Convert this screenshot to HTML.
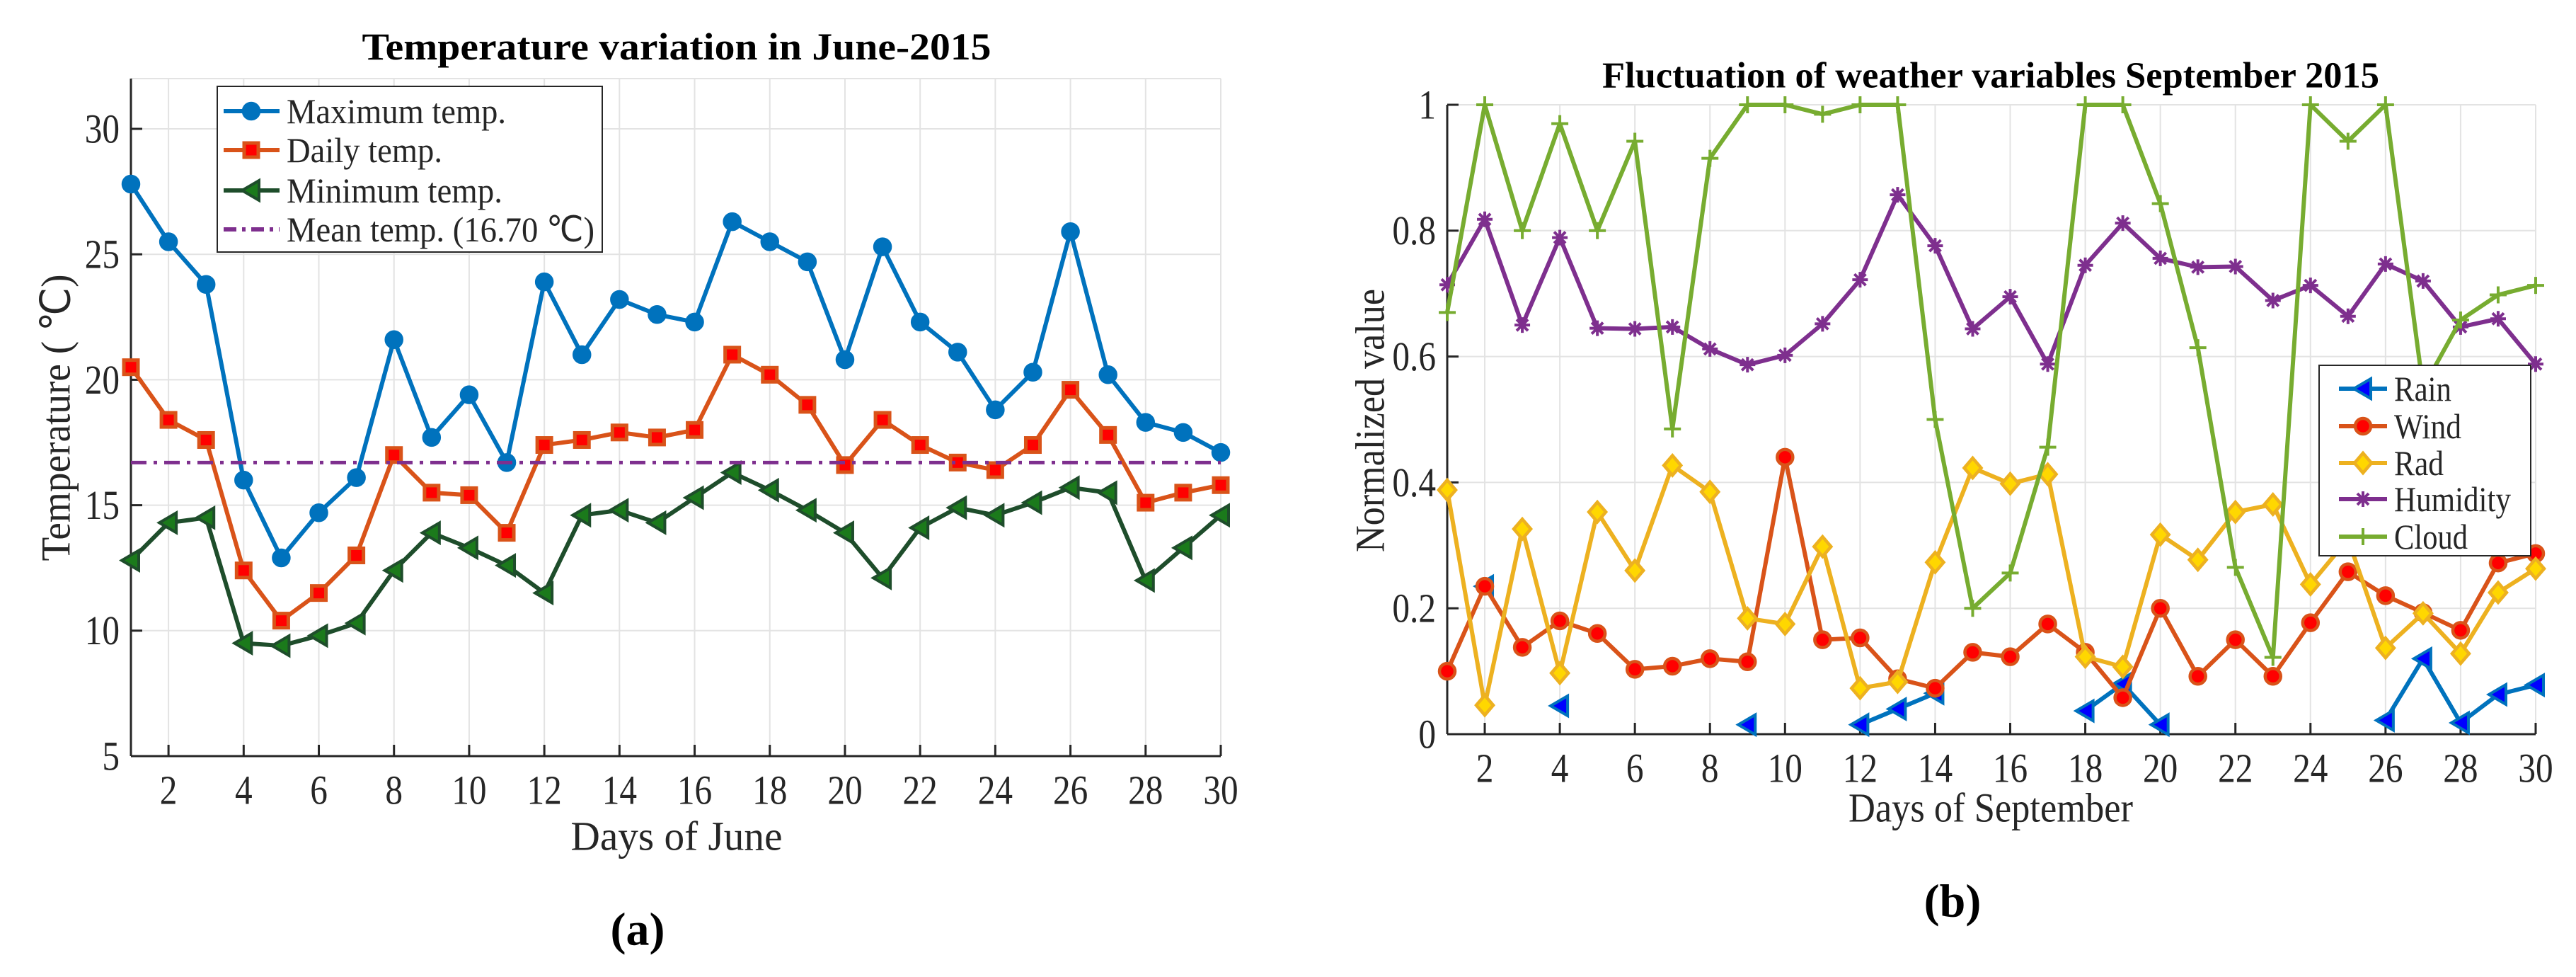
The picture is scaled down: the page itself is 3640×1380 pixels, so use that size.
<!DOCTYPE html>
<html><head><meta charset="utf-8"><style>
html,body{margin:0;padding:0;background:#fff;}
svg{display:block;font-family:"Liberation Serif",serif;}
</style></head>
<body>
<svg id="fig" width="3640" height="1380" viewBox="0 0 3640 1380" xmlns="http://www.w3.org/2000/svg"></svg>
<script>
// ---- Chart (a) data ----
const daysA = [1,2,3,4,5,6,7,8,9,10,11,12,13,14,15,16,17,18,19,20,21,22,23,24,25,26,27,28,29,30];
const maxTemp = [27.8,25.5,23.8,16,12.9,14.7,16.1,21.6,17.7,19.4,16.7,23.9,21,23.2,22.6,22.3,26.3,25.5,24.7,20.8,25.3,22.3,21.1,18.8,20.3,25.9,20.2,18.3,17.9,17.1];
const dailyTemp = [20.5,18.4,17.6,12.4,10.4,11.5,13,17,15.5,15.4,13.9,17.4,17.6,17.9,17.7,18,21,20.2,19,16.6,18.4,17.4,16.7,16.4,17.4,19.6,17.8,15.1,15.5,15.8];
const minTemp = [12.8,14.3,14.5,9.5,9.4,9.8,10.3,12.4,13.9,13.3,12.6,11.5,14.6,14.8,14.3,15.3,16.3,15.6,14.8,13.9,12.1,14.1,14.9,14.6,15.1,15.7,15.5,12,13.3,14.6];
const meanTemp = 16.70;
const xTicksA = [2,4,6,8,10,12,14,16,18,20,22,24,26,28,30];
const yTicksA = [5,10,15,20,25,30];
// ---- Chart (b) data ----
const daysB = [1,2,3,4,5,6,7,8,9,10,11,12,13,14,15,16,17,18,19,20,21,22,23,24,25,26,27,28,29,30];
const rain = [null,0.235,null,0.045,null,null,null,null,0.015,null,null,0.015,0.04,0.065,null,null,null,0.037,0.08,0.015,null,null,null,null,null,0.022,0.12,0.018,0.063,0.078];
const wind = [0.1,0.235,0.138,0.18,0.16,0.103,0.108,0.12,0.115,0.44,0.15,0.153,0.088,0.073,0.13,0.123,0.175,0.13,0.058,0.2,0.092,0.15,0.092,0.177,0.258,0.22,0.193,0.165,0.272,0.287];
const rad = [0.388,0.046,0.326,0.097,0.353,0.26,0.427,0.385,0.184,0.175,0.298,0.073,0.083,0.273,0.423,0.398,0.413,0.123,0.107,0.317,0.277,0.353,0.365,0.238,0.31,0.137,0.192,0.128,0.225,0.263];
const humidity = [0.714,0.818,0.65,0.789,0.645,0.644,0.647,0.612,0.587,0.602,0.652,0.722,0.857,0.776,0.644,0.695,0.588,0.745,0.812,0.756,0.742,0.743,0.689,0.713,0.664,0.747,0.72,0.647,0.66,0.588];
const cloud = [0.67,1,0.8,0.97,0.8,0.942,0.485,0.915,1,1,0.985,1,1,0.5,0.2,0.256,0.456,1,1,0.843,0.614,0.265,0.122,1,0.942,1,0.55,0.658,0.698,0.713];
const xTicksB = [2,4,6,8,10,12,14,16,18,20,22,24,26,28,30];
const yTicksB = [0,0.2,0.4,0.6,0.8,1];
const yTickLabelsB = ["0","0.2","0.4","0.6","0.8","1"];

const NS = "http://www.w3.org/2000/svg";
const fig = document.getElementById('fig');
function mk(tag, attrs, parent){
  const e = document.createElementNS(NS, tag);
  for (const k in attrs) e.setAttribute(k, attrs[k]);
  (parent||fig).appendChild(e);
  return e;
}
function txt(parent, s, x, y, size, opts){
  opts = opts||{};
  const t = mk('text', {x:0, y:0, 'font-size':size, fill:'#262626',
    'text-anchor':opts.anchor||'middle', 'dominant-baseline':'central',
    'font-weight':opts.bold?'bold':'normal'}, parent);
  let tr = 'translate('+x+','+y+')';
  if (opts.rot) tr += ' rotate('+opts.rot+')';
  if (opts.sx) tr += ' scale('+opts.sx+',1)';
  t.setAttribute('transform', tr);
  if (opts.len){ t.setAttribute('textLength', opts.len); t.setAttribute('lengthAdjust','spacingAndGlyphs'); }
  if (opts.fill) t.setAttribute('fill', opts.fill);
  t.textContent = s;
  return t;
}
function marker(g, type, x, y, stroke, fill){
  let m;
  if (type==='circle') m = mk('circle',{cx:x,cy:y,r:11,fill:fill,stroke:stroke,'stroke-width':4.5},g);
  else if (type==='square') m = mk('rect',{x:x-10,y:y-10,width:20,height:20,fill:fill,stroke:stroke,'stroke-width':5},g);
  else if (type==='tri') m = mk('polygon',{points:(x-13)+','+y+' '+(x+11)+','+(y-14)+' '+(x+11)+','+(y+14),fill:fill,stroke:stroke,'stroke-width':4,'stroke-linejoin':'miter'},g);
  else if (type==='diamond') m = mk('polygon',{points:x+','+(y-14)+' '+(x+12)+','+y+' '+x+','+(y+14)+' '+(x-12)+','+y,fill:fill,stroke:stroke,'stroke-width':4.5},g);
  else if (type==='plus') m = mk('path',{d:'M'+(x-12)+' '+y+'H'+(x+12)+'M'+x+' '+(y-12)+'V'+(y+12),stroke:stroke,'stroke-width':4,fill:'none'},g);
  else if (type==='star') m = mk('path',{d:'M'+(x-11)+' '+y+'H'+(x+11)+'M'+x+' '+(y-11)+'V'+(y+11)+'M'+(x-8)+' '+(y-8)+'L'+(x+8)+' '+(y+8)+'M'+(x-8)+' '+(y+8)+'L'+(x+8)+' '+(y-8),stroke:stroke,'stroke-width':4,fill:'none'},g);
  return m;
}
function series(parent, name, xs, ys, sx, sy, color, mtype, mfill, mstroke){
  const g = mk('g', {}, parent);
  
  
  let d = '', pen = false;
  for (let i=0;i<xs.length;i++){
    if (ys[i]===null){ pen=false; continue; }
    d += (pen?'L':'M') + sx(xs[i]) + ' ' + sy(ys[i]) + ' ';
    pen = true;
  }
  const p = mk('path', {d:d, fill:'none', stroke:color, 'stroke-width':6, 'stroke-linejoin':'round'}, g);
  
  
  for (let i=0;i<xs.length;i++){
    if (ys[i]===null) continue;
    const m = marker(g, mtype, sx(xs[i]), sy(ys[i]), mstroke||color, mfill);
    
    
  }
  return g;
}
function axes(g, X0, X1, Y0, Y1, sx, sy, xt, yt, ytl){
  const grid = mk('g', {stroke:'#e3e3e3','stroke-width':2}, g);
  
  
  xt.forEach(v=>mk('line',{x1:sx(v),x2:sx(v),y1:Y0,y2:Y1},grid));
  yt.forEach(v=>mk('line',{x1:X0,x2:X1,y1:sy(v),y2:sy(v)},grid));
  mk('line',{x1:X1,x2:X1,y1:Y0,y2:Y1},grid);
  mk('line',{x1:X0,x2:X1,y1:Y1,y2:Y1},grid);
  const ax = mk('g', {stroke:'#262626','stroke-width':3}, g);
  
  
  mk('line',{x1:X0,x2:X1,y1:Y0,y2:Y0},ax);
  mk('line',{x1:X0,x2:X0,y1:Y0,y2:Y1},ax);
  xt.forEach(v=>mk('line',{x1:sx(v),x2:sx(v),y1:Y0,y2:Y0-16},ax));
  yt.forEach(v=>mk('line',{x1:X0,x2:X0+16,y1:sy(v),y2:sy(v)},ax));
  const xl = mk('g',{},g);
  
  
  xt.forEach(v=>txt(xl, String(v), sx(v), Y0+48, 58, {sx:0.85}));
  const yl = mk('g',{},g);
  
  
  yt.forEach((v,i)=>txt(yl, ytl[i], X0-16, sy(v), 58, {anchor:'end', sx:0.85}));
}

// ================= Chart A =================
const A = mk('g', {});


const aX0=185, aX1=1725, aY0=1068, aY1=111;
const sxA = d => aX0 + (d-1)*(aX1-aX0)/29;
const syA = v => aY0 - (v-5)*(aY0-182)/25;
axes(A, aX0, aX1, aY0, aY1, sxA, syA, xTicksA, yTicksA, yTicksA.map(String));
series(A,'max-temp-series',daysA,maxTemp,sxA,syA,'#0072BD','circle','#0072BD');
series(A,'daily-temp-series',daysA,dailyTemp,sxA,syA,'#D95319','square','#FF0000');
series(A,'min-temp-series',daysA,minTemp,sxA,syA,'#1E4D2B','tri','#1B7A1B');
const meanLine = mk('line',{x1:aX0,x2:aX1,y1:syA(meanTemp),y2:syA(meanTemp),stroke:'#7E2F8E','stroke-width':5,'stroke-dasharray':'22 10 5 10'},A);


let t;
t = txt(A,'Temperature variation in June-2015',956,66,54,{bold:true,len:889,fill:'#000'});


t = txt(A,'Days of June',956,1181,58,{len:299});


t = txt(A,'Temperature ( \u2103)',79,590,58,{rot:-90,len:405});


t = txt(A,'(a)',901,1313,66,{bold:true,fill:'#000'});


// legend A
const LA = mk('g',{},A);


mk('rect',{x:307,y:122,width:544,height:234,fill:'#fff',stroke:'#262626','stroke-width':2},LA);
const legA = [['Maximum temp.','#0072BD','circle','#0072BD',310],['Daily temp.','#D95319','square','#FF0000',220],['Minimum temp.','#1E4D2B','tri','#1B7A1B',305],['Mean temp. (16.70 \u2103)','#7E2F8E',null,null,435]];
const legAy=[157,212,269,324];
legA.forEach((e,i)=>{
  const g = mk('g',{},LA);
  
  
  const y=legAy[i];
  const l = mk('line',{x1:316,x2:395,y1:y,y2:y,stroke:e[1],'stroke-width':6},g);
  if (!e[2]) l.setAttribute('stroke-dasharray','18 8 5 8');
  else marker(g,e[2],355,y,e[1],e[3]);
  txt(g,e[0],405,y,50,{anchor:'start',len:e[4]});
});

// ================= Chart B =================
const B = mk('g', {});


const bX0=2045, bX1=3583, bY0=1037, bY1=148;
const sxB = d => bX0 + (d-1)*(bX1-bX0)/29;
const syB = v => bY0 - v*(bY0-bY1);
axes(B, bX0, bX1, bY0, bY1, sxB, syB, xTicksB, yTicksB, yTickLabelsB);
series(B,'rain-series',daysB,rain,sxB,syB,'#0072BD','tri','#0000FF');
series(B,'wind-series',daysB,wind,sxB,syB,'#D95319','circle','#FF0000');
series(B,'rad-series',daysB,rad,sxB,syB,'#EDB120','diamond','#FFD700');
series(B,'humidity-series',daysB,humidity,sxB,syB,'#7E2F8E','star','none');
series(B,'cloud-series',daysB,cloud,sxB,syB,'#77AC30','plus','none');
t = txt(B,'Fluctuation of weather variables September 2015',2813,107,52,{bold:true,len:1098,fill:'#000'});


t = txt(B,'Days of September',2813,1141,58,{len:402});


t = txt(B,'Normalized value',1936,594,58,{rot:-90,len:372});


t = txt(B,'(b)',2759,1273,66,{bold:true,fill:'#000'});


const LB = mk('g',{},B);


mk('rect',{x:3277,y:516,width:299,height:269,fill:'#fff',stroke:'#262626','stroke-width':2},LB);
const legB = [['Rain','#0072BD','tri','#0000FF',81],['Wind','#D95319','circle','#FF0000',95],['Rad','#EDB120','diamond','#FFD700',70],['Humidity','#7E2F8E','star','none',165],['Cloud','#77AC30','plus','none',104]];
const legBy=[549,602,654,705,758];
legB.forEach((e,i)=>{
  const g = mk('g',{},LB);
  
  
  const y=legBy[i];
  mk('line',{x1:3305,x2:3373,y1:y,y2:y,stroke:e[1],'stroke-width':6},g);
  marker(g,e[2],3339,y,e[1],e[3]);
  txt(g,e[0],3383,y,50,{anchor:'start',len:e[4]});
});
</script>
</body></html>
